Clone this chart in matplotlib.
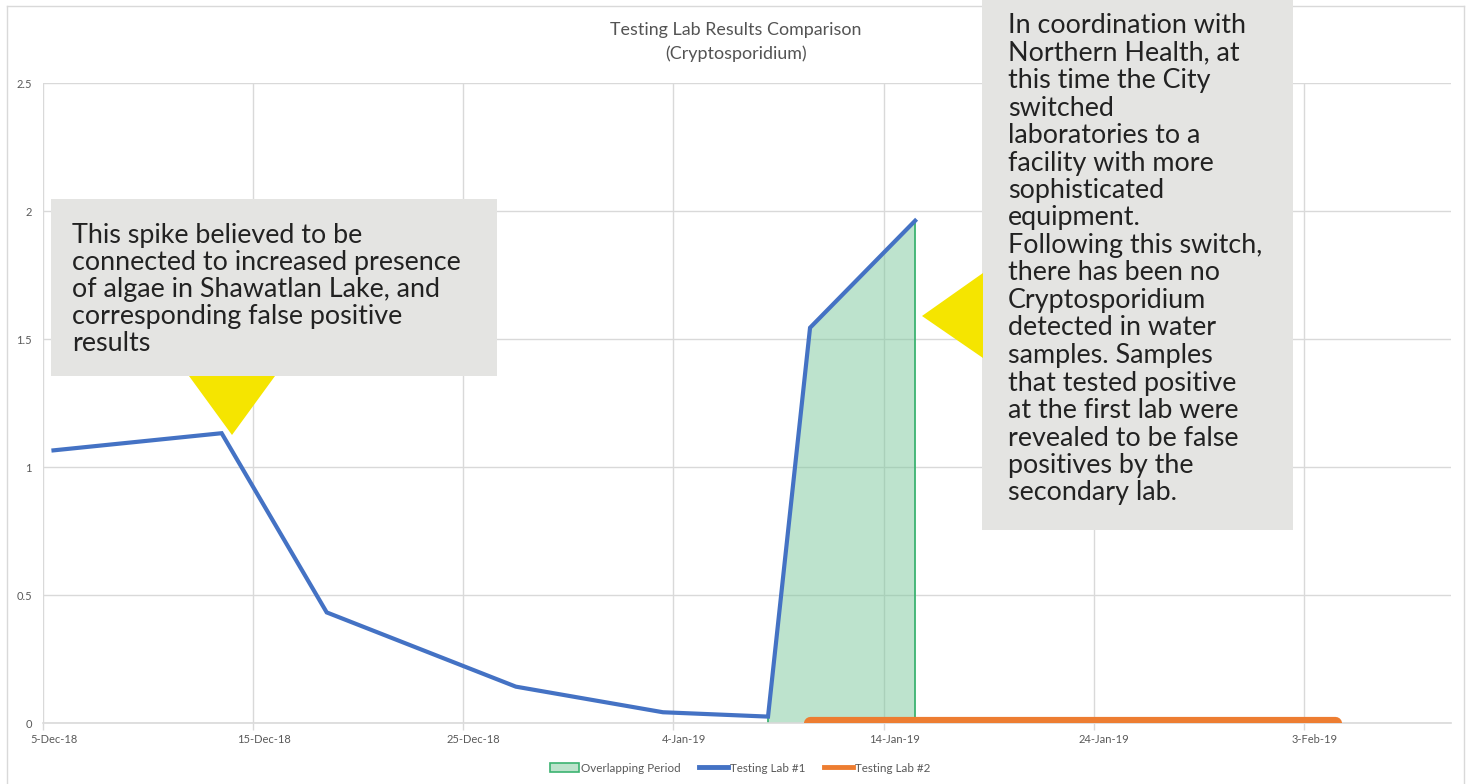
import datetime as dt
import matplotlib
matplotlib.use("Agg")
import matplotlib.pyplot as plt
import matplotlib.dates as mdates
from matplotlib.patches import Rectangle, Polygon
from matplotlib.lines import Line2D

# ---------------- data ----------------
lab1_dates = [dt.date(2018, 12, 5), dt.date(2018, 12, 13), dt.date(2018, 12, 18),
              dt.date(2018, 12, 27), dt.date(2019, 1, 3), dt.date(2019, 1, 8),
              dt.date(2019, 1, 10), dt.date(2019, 1, 15)]
lab1_values = [1.065, 1.132, 0.432, 0.142, 0.042, 0.025, 1.544, 1.962]

lab2_dates = [dt.date(2019, 1, 10), dt.date(2019, 1, 15), dt.date(2019, 1, 22),
              dt.date(2019, 1, 29), dt.date(2019, 2, 4)]
lab2_values = [0, 0, 0, 0, 0]

overlap_dates = [dt.date(2019, 1, 8), dt.date(2019, 1, 10), dt.date(2019, 1, 15)]
overlap_values = [0.025, 1.544, 1.962]

tick_dates = [dt.date(2018, 12, 5), dt.date(2018, 12, 15), dt.date(2018, 12, 25),
              dt.date(2019, 1, 4), dt.date(2019, 1, 14), dt.date(2019, 1, 24),
              dt.date(2019, 2, 3)]
tick_labels = ["5-Dec-18", "15-Dec-18", "25-Dec-18", "4-Jan-19", "14-Jan-19",
               "24-Jan-19", "3-Feb-19"]
y_ticks = [0, 0.5, 1, 1.5, 2, 2.5]

title = "Testing Lab Results Comparison\n(Cryptosporidium)"
note1 = ["This spike believed to be",
         "connected to increased presence",
         "of algae in Shawatlan Lake, and",
         "corresponding false positive",
         "results"]
note2 = ["In coordination with", "Northern Health, at", "this time the City",
         "switched", "laboratories to a", "facility with more", "sophisticated",
         "equipment.", "Following this switch,", "there has been no",
         "Cryptosporidium", "detected in water", "samples. Samples",
         "that tested positive", "at the first lab were", "revealed to be false",
         "positives by the", "secondary lab."]

# ---------------- style ----------------
W, H = 1468, 784
BLUE = "#4472c4"
ORANGE = "#ed7d31"
GRID = "#d9d9d9"
TXT = "#595959"
BOXC = "#e4e4e2"
YEL = "#f5e500"
plt.rcParams["font.family"] = ["Lato", "DejaVu Sans"]

fig = plt.figure(figsize=(W / 100, H / 100), dpi=100)

def fx(px):
    return px / W

def fy(py):
    return 1 - py / H

ax = fig.add_axes([fx(43), fy(723), fx(1451) - fx(43), fy(83) - fy(723)])

def pos(dates):
    # Excel "between tick marks": points sit at the centre of each day slot
    return [mdates.date2num(d) + 0.5 for d in dates]

ax.set_xlim(mdates.date2num(dt.date(2018, 12, 5)), mdates.date2num(dt.date(2019, 2, 10)))
ax.set_ylim(0, 2.5)

# fill (overlapping period)
ox = pos(overlap_dates)
ax.fill_between(ox, overlap_values, 0, facecolor="#7cc89c", alpha=0.5,
                edgecolor="none", zorder=1.5)
ax.plot([ox[0], ox[0]], [0, overlap_values[0]], color="#3cb371", lw=1.3, zorder=1.6)
ax.plot([ox[-1], ox[-1]], [0, overlap_values[-1]], color="#3cb371", lw=1.3, zorder=1.6)

ax.plot(pos(lab1_dates), lab1_values, color=BLUE, lw=3.0, zorder=3,
        solid_joinstyle="miter")
ax.plot(pos(lab2_dates), lab2_values, color=ORANGE, lw=9.5, zorder=3,
        solid_capstyle="round")

# axes styling
for s in ["top", "right", "left"]:
    ax.spines[s].set_visible(False)
ax.spines["bottom"].set_color(GRID)
ax.spines["bottom"].set_linewidth(1.2)
ax.set_xticks([mdates.date2num(d) for d in tick_dates])
ax.set_xticklabels([])
ax.set_xticks([mdates.date2num(d) + 0.5 for d in tick_dates], minor=True)
ax.set_xticklabels(tick_labels, minor=True)
ax.tick_params(axis="x", which="major", length=5, color=GRID, width=1)
ax.tick_params(axis="x", which="minor", length=0, pad=8, labelsize=8, labelcolor=TXT)
ax.set_yticks(y_ticks)
ax.set_yticklabels(["%g" % v for v in y_ticks])
ax.tick_params(axis="y", length=0, pad=8, labelsize=8, labelcolor=TXT)
ax.grid(True, which="major", color=GRID, lw=1)
ax.set_axisbelow(True)

# chart frame
fig.add_artist(Line2D([fx(7), fx(7)], [fy(6), 0], color=GRID, lw=1))
fig.add_artist(Line2D([fx(7), fx(1464)], [fy(6), fy(6)], color=GRID, lw=1))
fig.add_artist(Line2D([fx(1464), fx(1464)], [fy(6), 0], color=GRID, lw=1))

# title
fig.text(fx(736), fy(42), title, ha="center", va="center", fontsize=12.9,
         color="#545454", linespacing=1.5)

# legend
handles = [Rectangle((0, 0), 1, 1, facecolor="#bde3cc", edgecolor="#3cb371", lw=1.2),
           Line2D([], [], color=BLUE, lw=3.5),
           Line2D([], [], color=ORANGE, lw=3.5)]
fig.legend(handles, ["Overlapping Period", "Testing Lab #1", "Testing Lab #2"],
           loc="center", bbox_to_anchor=(fx(740), fy(768)), ncol=3, frameon=False,
           fontsize=8.4, labelcolor=TXT, handlelength=2.5, handleheight=0.9,
           handletextpad=0.15, columnspacing=1.6)

# annotation 1
fig.add_artist(Rectangle((fx(51), fy(376)), fx(497) - fx(51), fy(199) - fy(376),
                         facecolor=BOXC, edgecolor="none", zorder=5))
fig.add_artist(Polygon([(fx(189), fy(376)), (fx(275), fy(376)), (fx(232), fy(435))],
                       closed=True, facecolor=YEL, edgecolor="none", zorder=5))
for i, line in enumerate(note1):
    fig.text(fx(72), fy(243 + i * 27), line, ha="left", va="baseline",
             fontsize=19.4, color="#222222", zorder=6)

# annotation 2
fig.add_artist(Rectangle((fx(982), fy(530)), fx(1293) - fx(982), fy(-10) - fy(530),
                         facecolor=BOXC, edgecolor="none", zorder=5))
fig.add_artist(Polygon([(fx(922), fy(316)), (fx(983), fy(273)), (fx(983), fy(358))],
                       closed=True, facecolor=YEL, edgecolor="none", zorder=5))
for i, line in enumerate(note2):
    fig.text(fx(1008), fy(33 + i * 27.5), line, ha="left", va="baseline",
             fontsize=19.4, color="#222222", zorder=6)

fig.savefig("out.png", dpi=100)
